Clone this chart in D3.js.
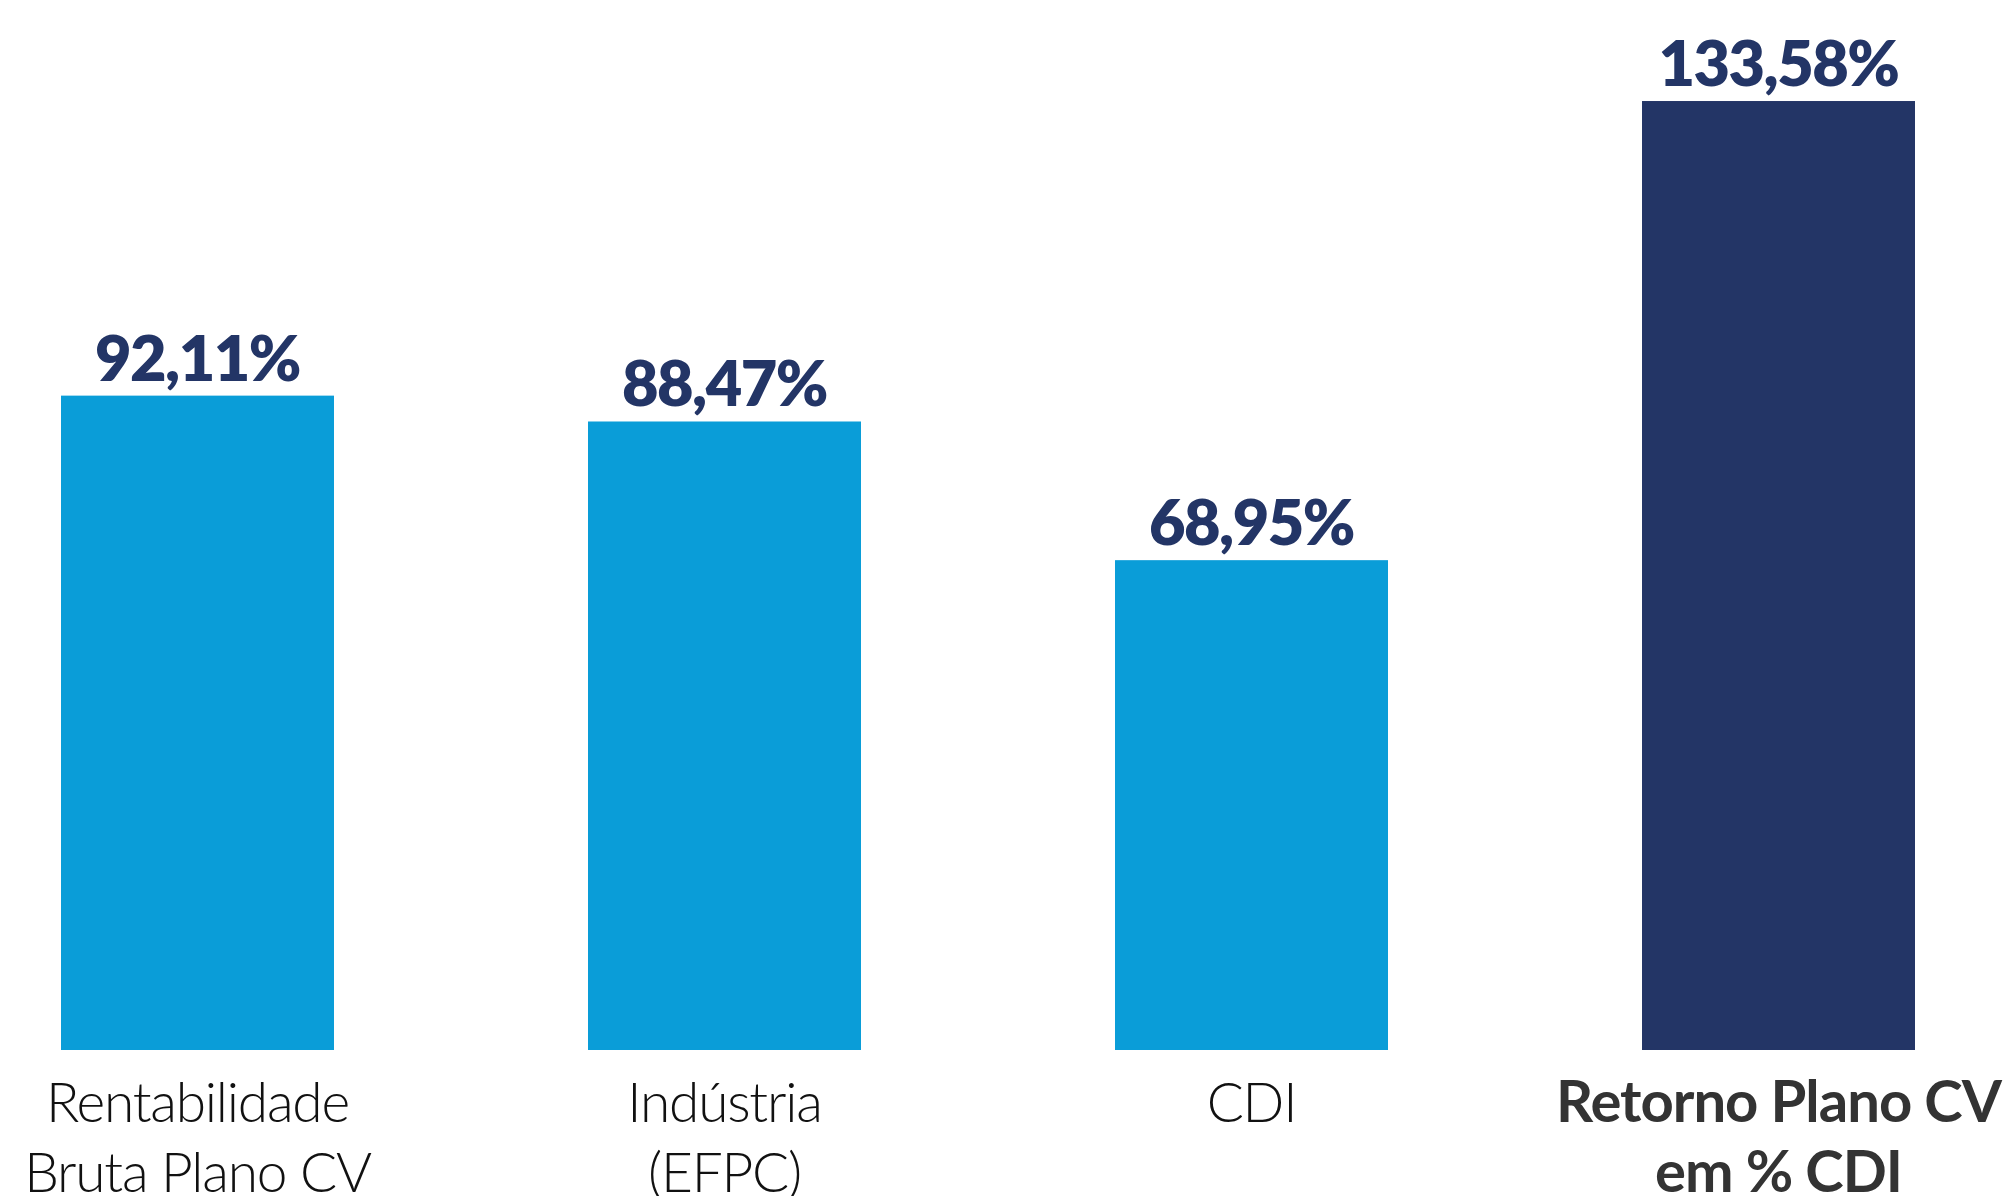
<!DOCTYPE html>
<html>
<head>
<meta charset="utf-8">
<script src="https://cdnjs.cloudflare.com/ajax/libs/d3/7.8.5/d3.min.js"></script>
<style>
	html, body { margin: 0; padding: 0; background: #fff; }
	svg { display: block; }
</style>
</head>
<body>
<div id="vis"></div>
<script>
// DATA
let categories = ['Rentabilidade Bruta Plano CV', 'Indústria (EFPC)', 'CDI', 'Retorno Plano CV em % CDI'];
let labelLines = [
	['Rentabilidade', 'Bruta Plano CV'],
	['Indústria', '(EFPC)'],
	['CDI'],
	['Retorno Plano CV', 'em % CDI']
];
let values = [92.11, 88.47, 68.95, 133.58];
let highlight = [false, false, false, true];

// PARAMETERS
let width = 2012,
	height = 1196,
	baseline = 1050,
	left = 61,
	right = 1915;

let colors = {
	bar: '#0a9dd8',
	barHighlight: '#233566',
	value: '#233566',
	label: '#111',
	labelHighlight: '#333'
};

let fmt = v => d3.format('.2f')(v).replace('.', ',') + '%';

// SCALES
let x = d3
		.scaleBand()
		.domain(categories)
		.range([left, right])
		.paddingInner(0.482)
		.paddingOuter(0),
	y = d3
		.scaleLinear()
		.domain([0, 147.8])
		.range([baseline, 0]);

// SVG
let svg = d3
	.select('#vis')
	.append('svg')
	.attr('width', width)
	.attr('height', height);

// BARS
svg
	.selectAll('rect.bar')
	.data(categories)
	.enter()
	.append('rect')
	.attr('class', 'bar')
	.attr('x', d => x(d))
	.attr('y', (d, i) => y(values[i]))
	.attr('width', x.bandwidth())
	.attr('height', (d, i) => y(0) - y(values[i]))
	.attr('fill', (d, i) => (highlight[i] ? colors.barHighlight : colors.bar));

// VALUE LABELS
svg
	.selectAll('text.value')
	.data(categories)
	.enter()
	.append('text')
	.attr('class', 'value')
	.attr('x', d => x(d) + x.bandwidth() / 2)
	.attr('y', (d, i) => y(values[i]) - 15)
	.attr('text-anchor', 'middle')
	.attr('font-family', 'Lato, "Open Sans", sans-serif')
	.attr('font-weight', 800)
	.attr('font-size', 63)
	.attr('letter-spacing', -1.5)
	.attr('fill', colors.value)
	.text((d, i) => fmt(values[i]));

// CATEGORY LABELS
let labels = svg
	.selectAll('text.cat')
	.data(categories)
	.enter()
	.append('text')
	.attr('class', 'cat')
	.attr('text-anchor', 'middle')
	.attr('font-family', 'Lato, "Open Sans", sans-serif')
	.attr('font-weight', (d, i) => (highlight[i] ? 700 : 300))
	.attr('font-size', (d, i) => (highlight[i] ? 58 : 55))
	.attr('letter-spacing', (d, i) => (highlight[i] ? -1 : -1.2))
	.attr('fill', (d, i) => (highlight[i] ? colors.labelHighlight : colors.label));

labels
	.selectAll('tspan')
	.data((d, i) => labelLines[i].map(t => ({ t, cx: x(d) + x.bandwidth() / 2 })))
	.enter()
	.append('tspan')
	.attr('x', d => d.cx)
	.attr('y', (d, j) => 1122 + j * 70)
	.text(d => d.t);
</script>
</body>
</html>
